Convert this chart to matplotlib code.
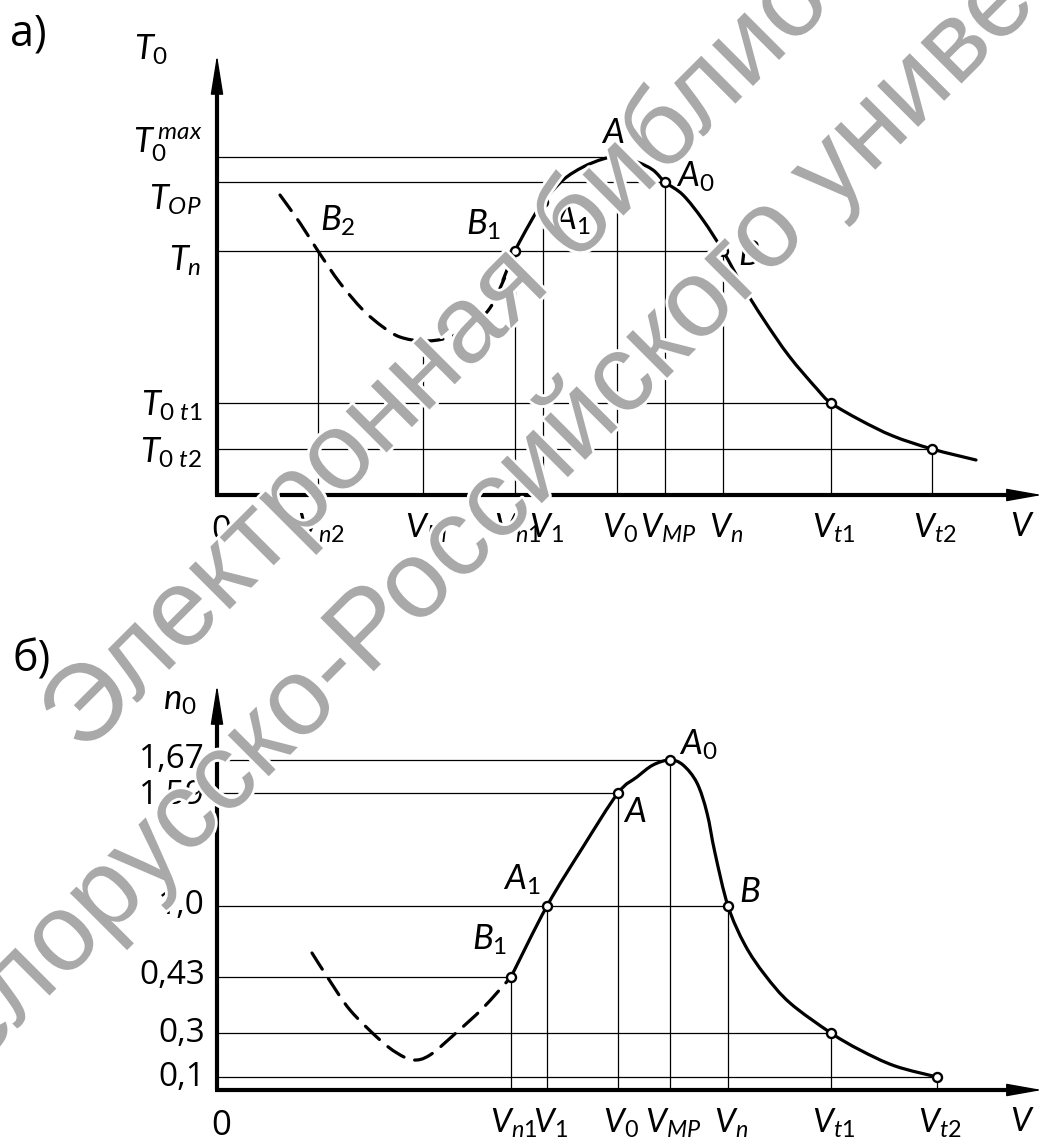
import numpy as np
import matplotlib
matplotlib.use("Agg")
import matplotlib.pyplot as plt
import matplotlib.patheffects as pe
from matplotlib.path import Path
from matplotlib.patches import PathPatch

plt.rcParams['font.family'] = ['Lato', 'DejaVu Sans']
plt.rcParams['mathtext.fontset'] = 'custom'
plt.rcParams['mathtext.it'] = 'Lato:italic'
plt.rcParams['mathtext.rm'] = 'Lato'
plt.rcParams['mathtext.bf'] = 'Lato:bold'

# ---- panel a) T0 vs V (schematic units) ----
va_labels = [r"$V_{n2}$", r"$V_M$", r"$V_{n1}$", r"$V_1$", r"$V_0$", r"$V_{MP}$", r"$V_n$", r"$V_{t1}$", r"$V_{t2}$"]
va_pos = [1.01, 2.06, 2.98, 3.26, 4.00, 4.48, 5.06, 6.14, 7.15]
va_top = [2.44, 1.54, 2.44, 2.93, 3.38, 3.13, 2.44, 0.92, 0.46]

ta_labels = [r"$T_0^{\,max}$", r"$T_{OP}$", r"$T_n$", r"$T_{0\;t1}$", r"$T_{0\;t2}$"]
ta_pos = [3.38, 3.13, 2.44, 0.92, 0.46]
ta_right = [4.00, 4.48, 5.06, 6.14, 7.15]
ta_label_y = [3.50, 2.95, 2.34, 0.89, 0.42]

a_dash_v = [0.63, 0.83, 1.01, 1.23, 1.46, 1.66, 1.83, 2.06, 2.30, 2.53, 2.73, 2.88]
a_dash_t = [3.00, 2.72, 2.44, 2.12, 1.85, 1.68, 1.58, 1.54, 1.57, 1.68, 1.87, 2.18]
a_solid_v = [2.86, 2.98, 3.13, 3.26, 3.46, 3.66, 3.86, 4.00, 4.20, 4.36, 4.48, 4.66, 4.86, 5.06,
             5.25, 5.47, 5.72, 6.00, 6.14, 6.43, 6.76, 7.15, 7.59]
a_solid_t = [2.15, 2.44, 2.72, 2.93, 3.15, 3.28, 3.36, 3.38, 3.33, 3.25, 3.13, 3.00, 2.75, 2.44,
             2.10, 1.75, 1.39, 1.06, 0.92, 0.75, 0.59, 0.46, 0.35]
a_mark_v = [2.98, 3.26, 4.48, 5.06, 6.14, 7.15]
a_mark_t = [2.44, 2.93, 3.13, 2.44, 0.92, 0.46]

a_pt_labels = [r"$A$", r"$A_0$", r"$B_1$", r"$A_1$", r"$B$", r"$B_2$"]
a_pt_xy = [(3.96, 3.62), (4.78, 3.18), (2.67, 2.70), (3.55, 2.75), (5.32, 2.40), (1.21, 2.74)]

# ---- panel b) n0 vs V ----
vb_labels = [r"$V_{n1}$", r"$V_1$", r"$V_0$", r"$V_{MP}$", r"$V_n$", r"$V_{t1}$", r"$V_{t2}$"]
vb_pos = [2.94, 3.30, 4.01, 4.53, 5.11, 6.14, 7.20]
vb_top = [1.13, 1.84, 2.97, 3.30, 1.84, 0.57, 0.13]

nb_labels = ["1,67", "1,59", "1,0", "0,43", "0,3", "0,1"]
nb_pos = [3.30, 2.97, 1.84, 1.13, 0.57, 0.13]
nb_right = [4.53, 4.01, 5.11, 2.94, 6.14, 7.20]
nb_label_y = [3.30, 2.95, 1.84, 1.15, 0.57, 0.13]

b_dash_v = [0.95, 1.11, 1.33, 1.63, 1.80, 1.96, 2.13, 2.40, 2.66, 2.94]
b_dash_n = [1.37, 1.12, 0.80, 0.50, 0.37, 0.30, 0.35, 0.58, 0.82, 1.13]
b_solid_v = [2.94, 3.30, 3.66, 4.01, 4.20, 4.36, 4.53, 4.66, 4.80, 4.90,
             4.98, 5.11, 5.28, 5.48, 5.73, 6.14, 6.43, 6.78, 7.20]
b_solid_n = [1.13, 1.84, 2.43, 2.97, 3.13, 3.25, 3.30, 3.25, 3.07, 2.77,
             2.37, 1.84, 1.45, 1.15, 0.87, 0.57, 0.40, 0.24, 0.13]
b_mark_v = vb_pos
b_mark_n = vb_top

b_pt_labels = [r"$A_0$", r"$A$", r"$A_1$", r"$B$", r"$B_1$"]
b_pt_xy = [(4.81, 3.45), (4.18, 2.78), (3.05, 2.10), (5.33, 1.98), (2.73, 1.50)]

fs = 24
thin = 0.9
curve_lw = 2.3


def smooth(xs, ys):
    # Catmull-Rom through the read points, drawn as cubic Bezier segments
    p = np.column_stack([xs, ys])
    verts = [p[0]]
    codes = [Path.MOVETO]
    for i in range(len(p) - 1):
        p0 = p[i - 1] if i > 0 else p[i]
        p3 = p[i + 2] if i + 2 < len(p) else p[i + 1]
        verts += [p[i] + (p[i + 1] - p0) / 6, p[i + 1] - (p3 - p[i]) / 6, p[i + 1]]
        codes += [Path.CURVE4] * 3
    return Path(verts, codes)


def draw_panel(ax, vpos, vtop, vlabels, hpos, hright, hlabels, hlabel_y, dash, solid, marks,
               ptlabels, ptxy, ytip, ylabel, ylabel_xy, hlabel_math):
    # thin construction lines
    ax.vlines(vpos, 0, vtop, color='k', lw=thin)
    ax.hlines(hpos, 0, hright, color='k', lw=thin)
    # curve: dashed (unstable) and solid branch
    ax.add_patch(PathPatch(smooth(*dash), fill=False, ec='k', lw=curve_lw,
                           ls=(0, (6, 3.5)), capstyle='round'))
    ax.add_patch(PathPatch(smooth(*solid), fill=False, ec='k', lw=curve_lw, capstyle='round'))
    ax.plot(marks[0], marks[1], 'o', ms=6.5, mfc='white', mec='k', mew=1.7, zorder=5)
    # axes with arrows
    ax.plot([0, 0], [0, ytip - 0.3], color='k', lw=3, solid_capstyle='butt')
    ax.plot([-0.02, 7.98], [0, 0], color='k', lw=3, solid_capstyle='butt')
    ax.annotate('', xy=(0, ytip), xytext=(0, ytip - 0.36),
                arrowprops=dict(arrowstyle='-|>,head_length=1.0,head_width=0.16',
                                color='k', lw=1, mutation_scale=25, shrinkA=0, shrinkB=0))
    ax.annotate('', xy=(8.25, 0), xytext=(7.93, 0),
                arrowprops=dict(arrowstyle='-|>,head_length=0.9,head_width=0.16',
                                color='k', lw=1, mutation_scale=25, shrinkA=0, shrinkB=0))
    # tick labels on V axis
    for x, s in zip(vpos, vlabels):
        ax.text(x + 0.03, -0.17, s, fontsize=fs, ha='center', va='top')
    ax.text(0.04, -0.19, "0", fontsize=fs + 1, ha='center', va='top', family='Open Sans')
    ax.text(8.05, -0.17, r"$V$", fontsize=fs, ha='center', va='top')
    # level labels
    for y, s in zip(hlabel_y, hlabels):
        if hlabel_math:
            ax.text(-0.15, y, s, fontsize=fs + 1, ha='right', va='center')
        else:
            ax.text(-0.12, y, s, fontsize=24, ha='right', va='center', family='Open Sans')
    for (x, y), s in zip(ptxy, ptlabels):
        ax.text(x, y, s, fontsize=fs + 1, ha='center', va='center')
    ax.text(ylabel_xy[0], ylabel_xy[1], ylabel, fontsize=fs + 1, ha='center', va='center')


fig = plt.figure(figsize=(10.43, 11.44), dpi=100)
ax_a = fig.add_axes([0, 0.5, 1, 0.5])
ax_b = fig.add_axes([0, 0, 1, 0.5])
ax_a.set_xlim(-2.17, 8.26)
ax_a.set_ylim(-0.77, 4.95)
ax_b.set_xlim(-2.17, 8.26)
ax_b.set_ylim(-0.54, 5.18)
for ax in (ax_a, ax_b):
    ax.axis('off')

draw_panel(ax_a, va_pos, va_top, va_labels, ta_pos, ta_right, ta_labels, ta_label_y,
           (a_dash_v, a_dash_t), (a_solid_v, a_solid_t), (a_mark_v, a_mark_t),
           a_pt_labels, a_pt_xy, 4.40, r"$T_0$", (-0.66, 4.45), True)
draw_panel(ax_b, vb_pos, vb_top, vb_labels, nb_pos, nb_right, nb_labels, nb_label_y,
           (b_dash_v, b_dash_n), (b_solid_v, b_solid_n), (b_mark_v, b_mark_n),
           b_pt_labels, b_pt_xy, 4.05, r"$n_0$", (-0.37, 3.89), False)

ax_a.text(-1.89, 4.61, "а)", fontsize=31, ha='center', va='center', family='Open Sans')
ax_b.text(-1.85, 4.30, "б)", fontsize=31, ha='center', va='center', family='Open Sans')

# library watermark
W, H = 1043, 1144
wm = dict(rotation=45, rotation_mode='anchor', ha='left', va='baseline', fontsize=79,
          color='#a9a9a9', family='Liberation Sans', zorder=10,
          path_effects=[pe.withStroke(linewidth=4, foreground='white')])
fig.text(83 / W, 1 - 756 / H, "Электронная библиотека", **wm)
fig.text(-75 / W, 1 - 1120 / H, "Белорусско-Российского университета", **wm)

fig.savefig("out.png", dpi=100)
